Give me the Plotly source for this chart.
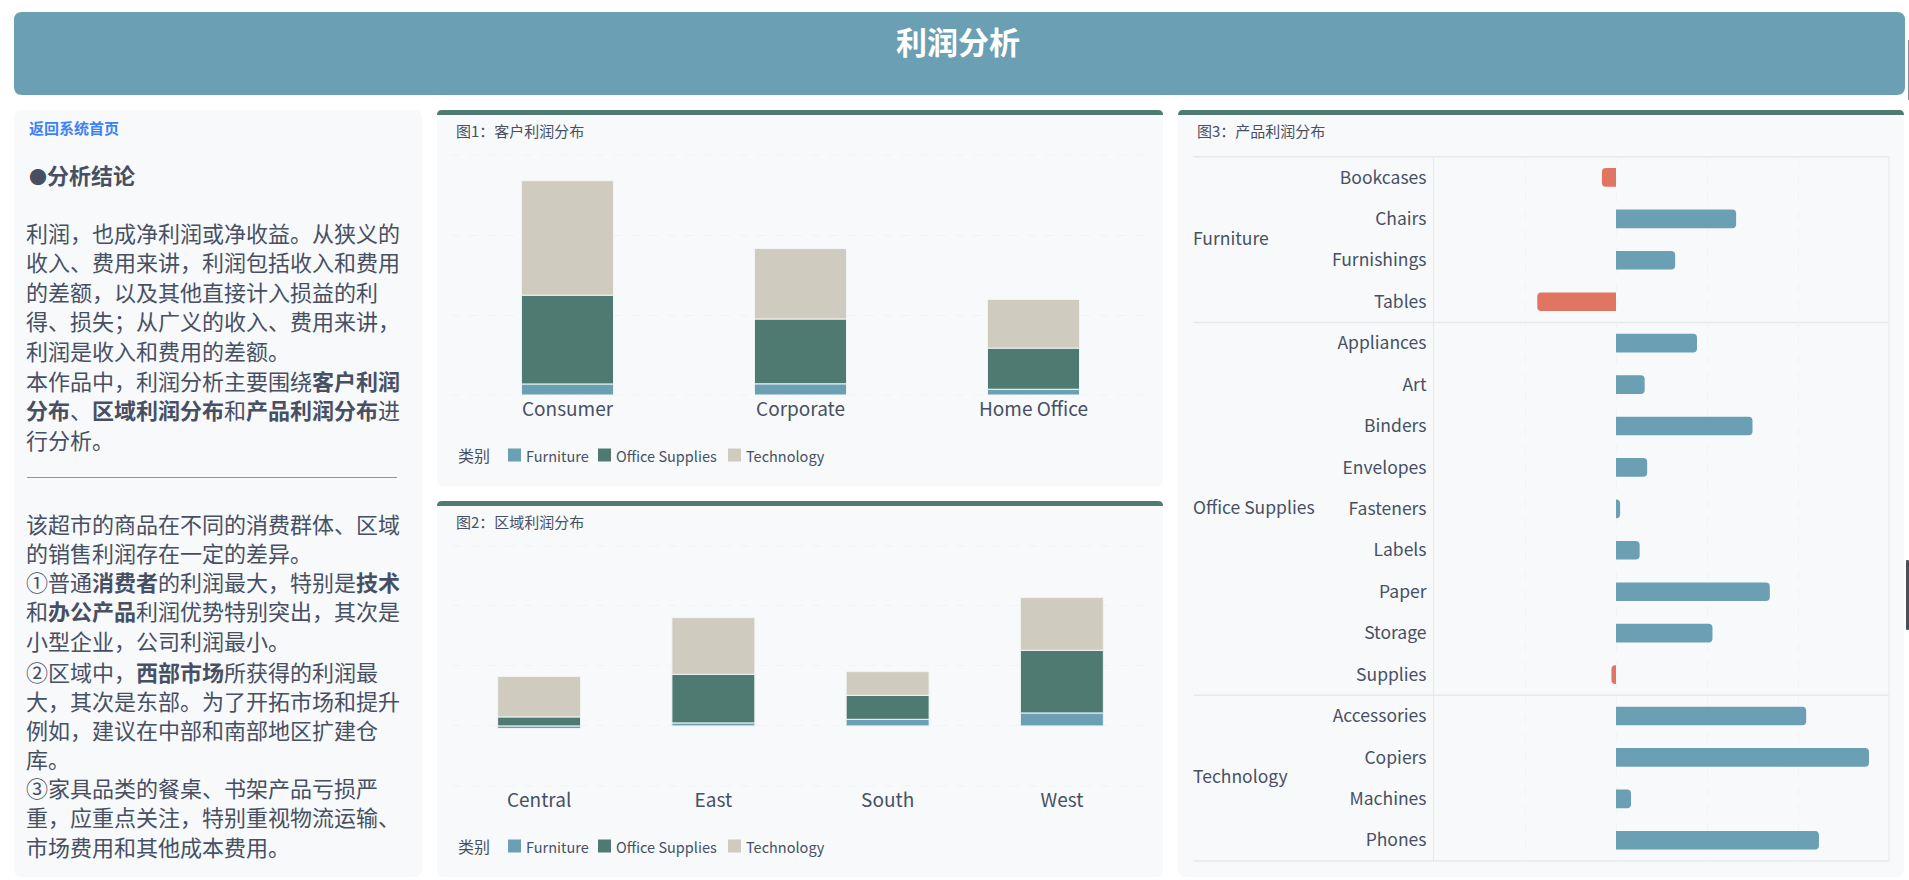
import plotly.graph_objects as go

W = 1909
H = 880

# colours
BLUE = "#6b9fb3"
GREEN = "#4e7a72"
BEIGE = "#cfcbbe"
RED = "#e07662"
PANEL = "#f7f9fb"
TEXT = "#475063"
FONT = "Noto Sans CJK SC"

# chart 1: profit by customer segment
segments = ["Consumer", "Corporate", "Home Office"]
seg_furniture = [6900, 7000, 3600]
seg_office = [55500, 40500, 25700]
seg_technology = [71500, 44000, 30400]

# chart 2: profit by region
regions = ["Central", "East", "South", "West"]
reg_furniture = [-2200, 2500, 5500, 10800]
reg_office = [7500, 40500, 20000, 52200]
reg_technology = [33600, 47200, 19700, 43900]

# chart 3: profit by product
products = ["Bookcases", "Chairs", "Furnishings", "Tables", "Appliances", "Art", "Binders",
            "Envelopes", "Fasteners", "Labels", "Paper", "Storage", "Supplies", "Accessories",
            "Copiers", "Machines", "Phones"]
product_profit = [-3100, 26400, 13000, -17300, 17800, 6300, 30000, 6850, 900, 5200, 33800,
                  21200, -1000, 41800, 55600, 3300, 44600]
# group name, first row, last row
groups = [("Furniture", 0, 3), ("Office Supplies", 4, 12), ("Technology", 13, 16)]

series_names = ["Furniture", "Office Supplies", "Technology"]
series_colors = [BLUE, GREEN, BEIGE]

page_title = "利润分析"
back_link = "返回系统首页"
conclusion_head = "<span style='font-size:18px'>●</span>分析结论"
chart_titles = ["图1\uff1a客户利润分布", "图2\uff1a区域利润分布", "图3\uff1a产品利润分布"]
# \uff0c and \uff1b are the full width comma and semicolon
intro_lines = [
    "利润\uff0c也成净利润或净收益。从狭义的",
    "收入、费用来讲\uff0c利润包括收入和费用",
    "的差额\uff0c以及其他直接计入损益的利",
    "得、损失\uff1b从广义的收入、费用来讲\uff0c",
    "利润是收入和费用的差额。",
    "本作品中\uff0c利润分析主要围绕<b>客户利润</b>",
    "<b>分布</b>、<b>区域利润分布</b>和<b>产品利润分布</b>进",
    "行分析。",
]
intro_y = [232.5, 261.5, 290.5, 319.5, 349.5, 379.5, 408.5, 438.5]
finding_lines = [
    "该超市的商品在不同的消费群体、区域",
    "的销售利润存在一定的差异。",
    "①普通<b>消费者</b>的利润最大\uff0c特别是<b>技术</b>",
    "和<b>办公产品</b>利润优势特别突出\uff0c其次是",
    "小型企业\uff0c公司利润最小。",
    "②区域中\uff0c<b>西部市场</b>所获得的利润最",
    "大\uff0c其次是东部。为了开拓市场和提升",
    "例如\uff0c建议在中部和南部地区扩建仓",
    "库。",
    "③家具品类的餐桌、书架产品亏损严",
    "重\uff0c应重点关注\uff0c特别重视物流运输、",
    "市场费用和其他成本费用。",
]
finding_y = [522.5, 551.5, 580.5, 609.5, 639.5, 670.5, 699.5, 728.5, 757.5, 786.5, 815.5, 845.5]


def px(x):
    return x / W


def py(y):
    return 1 - y / H


def round_rect(x0, y0, x1, y1, r, bottom=True):
    # rounded box in paper coords, given in screen pixels
    rb = r if bottom else 0
    pts = [("M", x0 + r, y0), ("L", x1 - r, y0), ("Q", x1, y0, x1, y0 + r),
           ("L", x1, y1 - rb), ("Q", x1, y1, x1 - rb, y1), ("L", x0 + rb, y1),
           ("Q", x0, y1, x0, y1 - rb), ("L", x0, y0 + r), ("Q", x0, y0, x0 + r, y0)]
    out = ""
    for p in pts:
        coords = [f"{px(p[i]):.5f},{py(p[i + 1]):.5f}" for i in range(1, len(p), 2)]
        out += p[0] + " ".join(coords) + " "
    return out + "Z"


def box(x0, y0, x1, y1, r, color, bottom=True):
    return dict(type="path", xref="paper", yref="paper", path=round_rect(x0, y0, x1, y1, r, bottom),
                fillcolor=color, line=dict(width=0), layer="below")


def hline(x0, x1, y, color, width=1, dash="solid"):
    return dict(type="line", xref="paper", yref="paper", x0=px(x0), x1=px(x1), y0=py(y), y1=py(y),
                line=dict(color=color, width=width, dash=dash), layer="below")


def label(text, x, y, size, color=TEXT, xanchor="left"):
    return dict(text=text, xref="paper", yref="paper", x=px(x), y=py(y), xanchor=xanchor,
                yanchor="middle", showarrow=False, align="left",
                font=dict(family=FONT, size=size, color=color))


fig = go.Figure()

# stacked bars for chart 1 and 2
stack1 = [seg_furniture, seg_office, seg_technology]
stack2 = [reg_furniture, reg_office, reg_technology]
for i in range(3):
    fig.add_trace(go.Bar(x=segments, y=stack1[i], name=series_names[i], width=0.395,
                         marker=dict(color=series_colors[i], line=dict(color="#f2f4f5", width=1)),
                         xaxis="x", yaxis="y", showlegend=False))
for i in range(3):
    fig.add_trace(go.Bar(x=regions, y=stack2[i], name=series_names[i], width=0.476,
                         marker=dict(color=series_colors[i], line=dict(color="#f2f4f5", width=1)),
                         xaxis="x2", yaxis="y2", showlegend=False))

bar_colors = [BLUE if v >= 0 else RED for v in product_profit]
fig.add_trace(go.Bar(y=products, x=product_profit, orientation="h", width=0.45,
                     marker=dict(color=bar_colors, cornerradius=4, line=dict(width=0)),
                     xaxis="x3", yaxis="y3", showlegend=False))

GRID = "#f1f3f6"
GRID3 = "#e6e9ee"

shapes = [
    box(14, 12, 1905, 95, 8, BLUE),
    box(14, 110, 422, 877, 8, PANEL),
    box(437, 110, 1163, 486, 8, PANEL),
    box(437, 110, 1163, 115, 5, GREEN, bottom=False),
    box(437, 501, 1163, 877, 8, PANEL),
    box(437, 501, 1163, 506, 5, GREEN, bottom=False),
    box(1178, 110, 1904, 877, 8, PANEL),
    box(1178, 110, 1904, 115, 5, GREEN, bottom=False),
    # window edge handles seen in the screenshot
    box(1908, 40, 1909, 100, 0, "#8a8d94"),
    box(1906, 560, 1909, 630, 1, "#4a4f5c"),
    # red divider in the text panel
    hline(27, 397, 477.5, RED),
    # grid lines on the plot edges, plotly drops those
    hline(451, 1150, 155, GRID, dash="dash"),
    hline(451, 1150, 395, GRID, dash="dash"),
    hline(452, 1149, 545.9, GRID, dash="dash"),
    hline(452, 1149, 785.9, GRID, dash="dash"),
]

# separators of the product table
row_h = (861 - 156.7) / len(products)
for y_px in [156.7] + [156.7 + (g[2] + 1) * row_h for g in groups]:
    shapes.append(hline(1193.5, 1889, y_px, GRID3, 1.5))
shapes.append(dict(type="line", xref="paper", yref="paper", x0=px(1889), x1=px(1889),
                   y0=py(156.7), y1=py(861), line=dict(color=GRID3, width=1)))

annotations = [
    label("<b>" + page_title + "</b>", 958, 40.5, 31, "#ffffff", "center"),
    label("<b>" + back_link + "</b>", 26.5, 127.5, 15, "#3b82f6"),
    label("<b>" + conclusion_head + "</b>", 26.5, 174, 22),
    label(chart_titles[0], 453.5, 130.5, 15),
    label(chart_titles[1], 453.5, 521.5, 15),
    label(chart_titles[2], 1194.5, 130.5, 15),
]
for line, y in zip(intro_lines, intro_y):
    annotations.append(label(line, 24, y, 22))
for line, y in zip(finding_lines, finding_y):
    annotations.append(label(line, 24, y, 22))
for name, first, last in groups:
    annotations.append(label(name, 1191, 156.7 + (first + last + 1) / 2 * row_h - 2.5, 17.5))

# legends of chart 1 and 2, spaced by hand since plotly's swatch gap is too wide
legend_marker_x = [508, 598, 728]
legend_text_x = [524, 613.5, 744]
for leg_y in [455, 846]:
    annotations.append(label("类别", 455.5, leg_y, 16))
    for i in range(3):
        shapes.append(dict(type="rect", xref="paper", yref="paper",
                           x0=px(legend_marker_x[i]), x1=px(legend_marker_x[i] + 13),
                           y0=py(leg_y - 6.5), y1=py(leg_y + 6.5),
                           fillcolor=series_colors[i], line=dict(width=0)))
        annotations.append(label(series_names[i], legend_text_x[i], leg_y, 14.5))

grid = dict(showgrid=True, gridcolor=GRID, griddash="dash", gridwidth=1, zeroline=False,
            showticklabels=False, ticks="", showline=False)
xcat = dict(showgrid=False, zeroline=False, showline=False, ticks="", ticklabelstandoff=1,
            tickfont=dict(family=FONT, size=19, color=TEXT))

fig.update_layout(
    width=W, height=H,
    margin=dict(l=0, r=0, t=0, b=0),
    paper_bgcolor="#ffffff", plot_bgcolor="rgba(0,0,0,0)",
    barmode="relative",
    shapes=shapes, annotations=annotations,
    font=dict(family=FONT, color=TEXT),
    xaxis=dict(domain=[px(451), px(1150)], **xcat),
    yaxis=dict(domain=[py(395), py(155)], range=[0, 150000], dtick=50000, **grid),
    xaxis2=dict(domain=[px(452), px(1149)], anchor="y2", **xcat),
    yaxis2=dict(domain=[py(785.9), py(545.9)], range=[-50000, 150000], dtick=50000, anchor="x2", **grid),
    xaxis3=dict(domain=[px(1434), px(1889)], range=[-40000, 60000], dtick=20000, anchor="y3", **grid),
    yaxis3=dict(domain=[py(861), py(156.7)], categoryorder="array", categoryarray=products,
                range=[len(products) - 0.5, -0.5], anchor="x3", showgrid=False, zeroline=False,
                showline=True, linecolor=GRID3, linewidth=1, ticks="", ticklabelstandoff=3,
                tickfont=dict(family=FONT, size=17.5, color=TEXT)),
)

fig.write_html("out.html", config={"displayModeBar": False},
               post_script="document.body.style.margin='0';document.body.style.overflow='hidden';")
